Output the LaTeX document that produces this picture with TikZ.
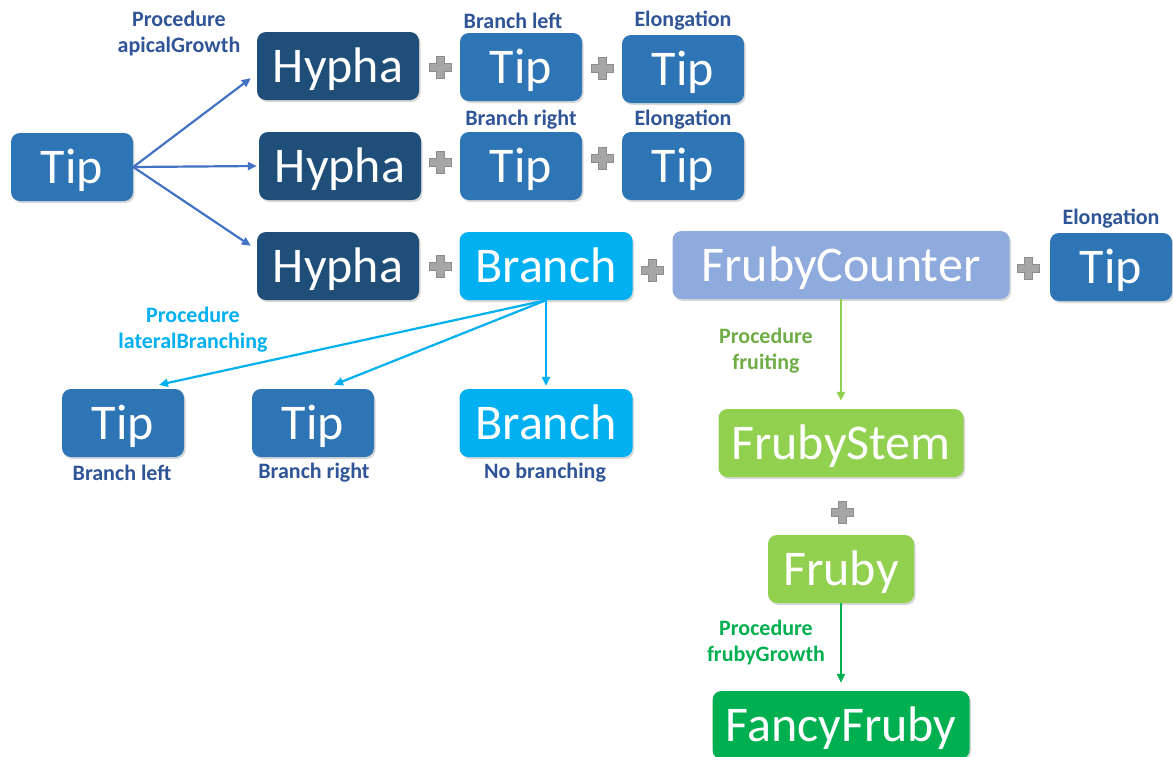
\documentclass[tikz,border=0pt]{standalone}
\usepackage{fontspec}
\setmainfont{Carlito}
\usetikzlibrary{arrows.meta,shadows,calc}
\definecolor{tipc}{HTML}{2E75B6}
\definecolor{hyphac}{HTML}{1F4E79}
\definecolor{branchc}{HTML}{00B0F0}
\definecolor{counterc}{HTML}{8FAADC}
\definecolor{stemc}{HTML}{92D050}
\definecolor{fancyc}{HTML}{00B050}
\definecolor{labc}{HTML}{2F5597}
\definecolor{fruitc}{HTML}{70AD47}
\definecolor{arrc}{HTML}{4472C4}
\definecolor{plusc}{HTML}{A6A6A6}
\definecolor{plusd}{HTML}{8C8C8C}
\tikzset{
  box/.style={rounded corners=9pt, inner sep=0pt, text=white,
    font=\fontsize{50}{52}\selectfont, text height=37pt, text depth=4pt,
    minimum height=68pt,
    drop shadow={shadow xshift=1.5pt, shadow yshift=-2pt, opacity=0.3}},
  lab/.style={font=\bfseries\fontsize{22}{26}\selectfont, align=center, text=labc, inner sep=0pt},
  arr/.style={-{Triangle[length=9pt,width=8pt]}, line width=2.2pt},
  plussign/.pic={\filldraw[fill=plusc, draw=plusd, line width=0.5pt]
    (-11,-4)--(-4,-4)--(-4,-11)--(4,-11)--(4,-4)--(11,-4)--(11,4)--(4,4)--(4,11)--(-4,11)--(-4,4)--(-11,4)--cycle;}
}
\begin{document}
\begin{tikzpicture}[x=1pt,y=-1pt]
\useasboundingbox (0,0) rectangle (1173,756);
\fill[white] (0,0) rectangle (1173,756);

% boxes
\node[box, fill=tipc, minimum width=122pt] (t0) at (72,167) {Tip};
\node[box, fill=hyphac, minimum width=162pt] (h1) at (338,66) {Hypha};
\node[box, fill=hyphac, minimum width=162pt] (h2) at (340,166) {Hypha};
\node[box, fill=hyphac, minimum width=162pt] (h3) at (338,266) {Hypha};
\node[box, fill=tipc, minimum width=122pt] (t11) at (521,67) {Tip};
\node[box, fill=tipc, minimum width=122pt] (t12) at (683,69) {Tip};
\node[box, fill=tipc, minimum width=122pt] (t21) at (521,166) {Tip};
\node[box, fill=tipc, minimum width=122pt] (t22) at (683,166) {Tip};
\node[box, fill=branchc, minimum width=173pt] (b1) at (546,266) {Branch};
\node[box, fill=counterc, minimum width=337pt] (fc) at (841,265) {FrubyCounter};
\node[box, fill=tipc, minimum width=122pt] (t3) at (1111,267) {Tip};
\node[box, fill=tipc, minimum width=122pt] (bl) at (123,423) {Tip};
\node[box, fill=tipc, minimum width=122pt] (br) at (313,423) {Tip};
\node[box, fill=branchc, minimum width=173pt] (b2) at (546,423) {Branch};
\node[box, fill=stemc, minimum width=245pt] (fs) at (841,443) {FrubyStem};
\node[box, fill=stemc, minimum width=146pt] (fr) at (841,569) {Fruby};
\node[box, fill=fancyc, minimum width=257pt] (ff) at (841,725) {FancyFruby};

% plus signs
\foreach \p in {(440,67),(440,162),(440,266),(602,68),(602,158),(652,270),(1028,268),(842,512)}
  \pic at \p {plussign};

% labels
\node[lab] (l1) at (179,34) {Procedure\\apicalGrowth};
\node[lab] (l2) at (513,21) {Branch left};
\node[lab] (l3) at (683,21) {Elongation};
\node[lab] (l4) at (521,120) {Branch right};
\node[lab] (l5) at (683,120) {Elongation};
\node[lab] (l6) at (1111,219) {Elongation};
\node[lab, text=branchc] (l7) at (193,330) {Procedure\\lateralBranching};
\node[lab] (l8) at (122,473) {Branch left};
\node[lab] (l9) at (314,473) {Branch right};
\node[lab] (l10) at (545,473) {No branching};
\node[lab, text=fruitc] (l11) at (766,351) {Procedure\\fruiting};
\node[lab, text=fancyc] (l12) at (766,643) {Procedure\\frubyGrowth};

% connectors
\draw[arr, arrc] (t0.east) -- ($(h1.south west)+(-6,-22)$);
\draw[arr, arrc] (t0.east) -- ($(h2.west)+(-2,0)$);
\draw[arr, arrc] (t0.east) -- ($(h3.north west)+(-6,14)$);
\draw[arr, branchc] (b1.south) -- ($(bl.north)+(36,-4)$);
\draw[arr, branchc] (b1.south) -- ($(br.north)+(21,-4)$);
\draw[arr, branchc] (b1.south) -- ($(b2.north)+(0,-3)$);
\draw[arr, stemc] (fc.south) -- ($(fs.north)+(0,-8)$);
\draw[arr, fancyc] (fr.south) -- ($(ff.north)+(0,-8)$);
\end{tikzpicture}
\end{document}
